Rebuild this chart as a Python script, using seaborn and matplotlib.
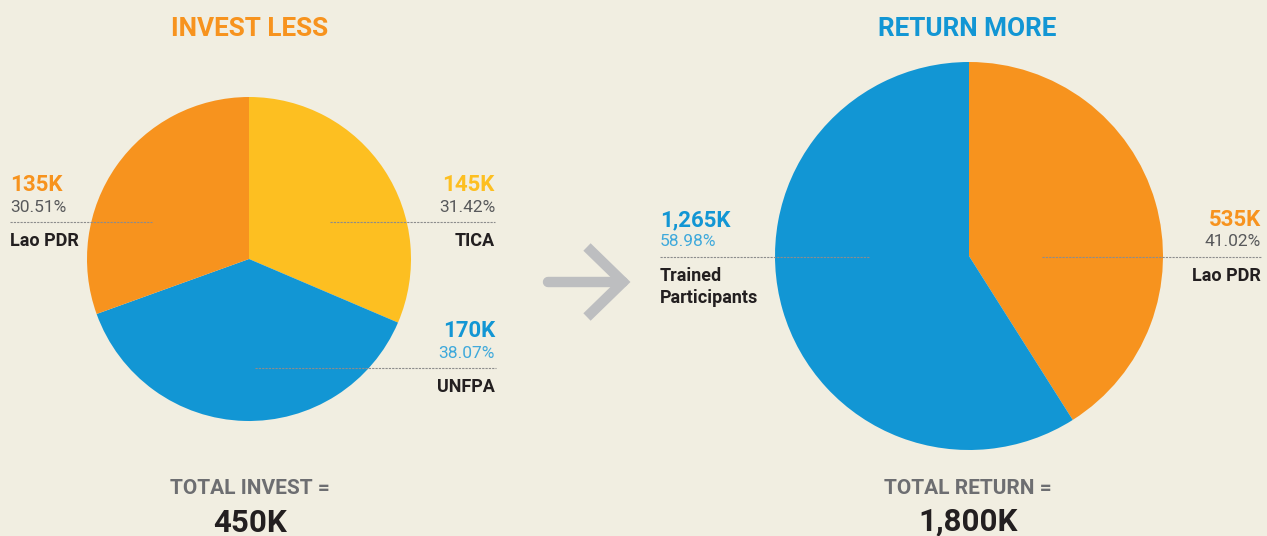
import matplotlib
matplotlib.use("Agg")
import matplotlib.pyplot as plt
import seaborn as sns

sns.set_theme(style="white")
plt.rcParams['font.family'] = ['Roboto', 'DejaVu Sans']

# data
invest_labels = ['TICA', 'UNFPA', 'Lao PDR']
invest_values = ['145K', '170K', '135K']
invest_pct = [31.42, 38.07, 30.51]
return_labels = ['Lao PDR', 'Trained\nParticipants']
return_values = ['535K', '1,265K']
return_pct = [41.02, 58.98]
totals = ['450K', '1,800K']

BG = '#F1EEE1'
ORANGE = '#F7931E'
YELLOW = '#FDBF21'
BLUE = '#1296D4'
DARK = '#231F20'
GREY = '#58595B'
LGREY = '#6D6E71'
invest_colors = [YELLOW, BLUE, ORANGE]
return_colors = [ORANGE, BLUE]

W, H = 1267, 536
fig = plt.figure(figsize=(W / 100, H / 100), dpi=100, facecolor=BG)


def pie_axes(cx, cy, r):
    ax = fig.add_axes([(cx - r) / W, (H - cy - r) / H, 2 * r / W, 2 * r / H])
    ax.set_facecolor('none')
    return ax


ax1 = pie_axes(249, 259, 162)
ax1.pie(invest_pct, colors=invest_colors, startangle=90, counterclock=False,
        radius=1, wedgeprops=dict(linewidth=0))
ax1.set_xlim(-1, 1); ax1.set_ylim(-1, 1); ax1.set_aspect('equal'); ax1.axis('off')

ax2 = pie_axes(969, 256, 194)
ax2.pie(return_pct, colors=return_colors, startangle=90, counterclock=False,
        radius=1, wedgeprops=dict(linewidth=0))
ax2.set_xlim(-1, 1); ax2.set_ylim(-1, 1); ax2.set_aspect('equal'); ax2.axis('off')

# overlay in pixel coordinates
ov = fig.add_axes([0, 0, 1, 1])
ov.set_facecolor('none')
ov.set_xlim(0, W); ov.set_ylim(H, 0); ov.axis('off')

ov.text(250, 29, 'INVEST LESS', color=ORANGE, fontsize=18.8, fontweight='bold', ha='center', va='center')
ov.text(967, 29, 'RETURN MORE', color=BLUE, fontsize=18.8, fontweight='bold', ha='center', va='center')

ov.text(250, 489, 'TOTAL INVEST =', color=LGREY, fontsize=15, fontweight='bold', ha='center', va='center')
ov.text(250, 523, totals[0], color=DARK, fontsize=22.5, fontweight='bold', ha='center', va='center')
ov.text(968, 489, 'TOTAL RETURN =', color=LGREY, fontsize=15, fontweight='bold', ha='center', va='center')
ov.text(968, 522, totals[1], color=DARK, fontsize=22.5, fontweight='bold', ha='center', va='center')


def label(x, y, ha, value, pct, name, vcol, pcol, x0, x1):
    ov.text(x, y, value, color=vcol, fontsize=16, fontweight='bold', ha=ha, va='center')
    ov.text(x, y + 22, f'{pct:.2f}%', color=pcol, fontsize=12.5, ha=ha, va='center')
    ov.plot([x0, x1], [y + 37, y + 37], color='#8C8C8C', lw=0.8, ls=(0, (2, 1)))
    ov.text(x, y + 47, name, color=DARK, fontsize=13, fontweight='bold', ha=ha, va='top',
            linespacing=1.3)


label(10, 185, 'left', invest_values[2], invest_pct[2], invest_labels[2], ORANGE, GREY, 10, 152)
label(495, 185, 'right', invest_values[0], invest_pct[0], invest_labels[0], YELLOW, GREY, 330, 495)
label(495, 331, 'right', invest_values[1], invest_pct[1], invest_labels[1], BLUE, '#3FA9DB', 255, 496)
label(660, 220, 'left', return_values[1], return_pct[1], return_labels[1], BLUE, '#3FA9DB', 660, 870)
label(1261, 220, 'right', return_values[0], return_pct[0], return_labels[0], ORANGE, GREY, 1042, 1261)

# arrow
acol = '#BDBEC0'
ov.plot([548, 623], [282, 282], color=acol, lw=7.5, solid_capstyle='round')
ov.plot([587, 623, 587], [247, 282, 317], color=acol, lw=7.5, solid_capstyle='butt',
        solid_joinstyle='miter')

fig.savefig('out.png', dpi=100, facecolor=BG)
